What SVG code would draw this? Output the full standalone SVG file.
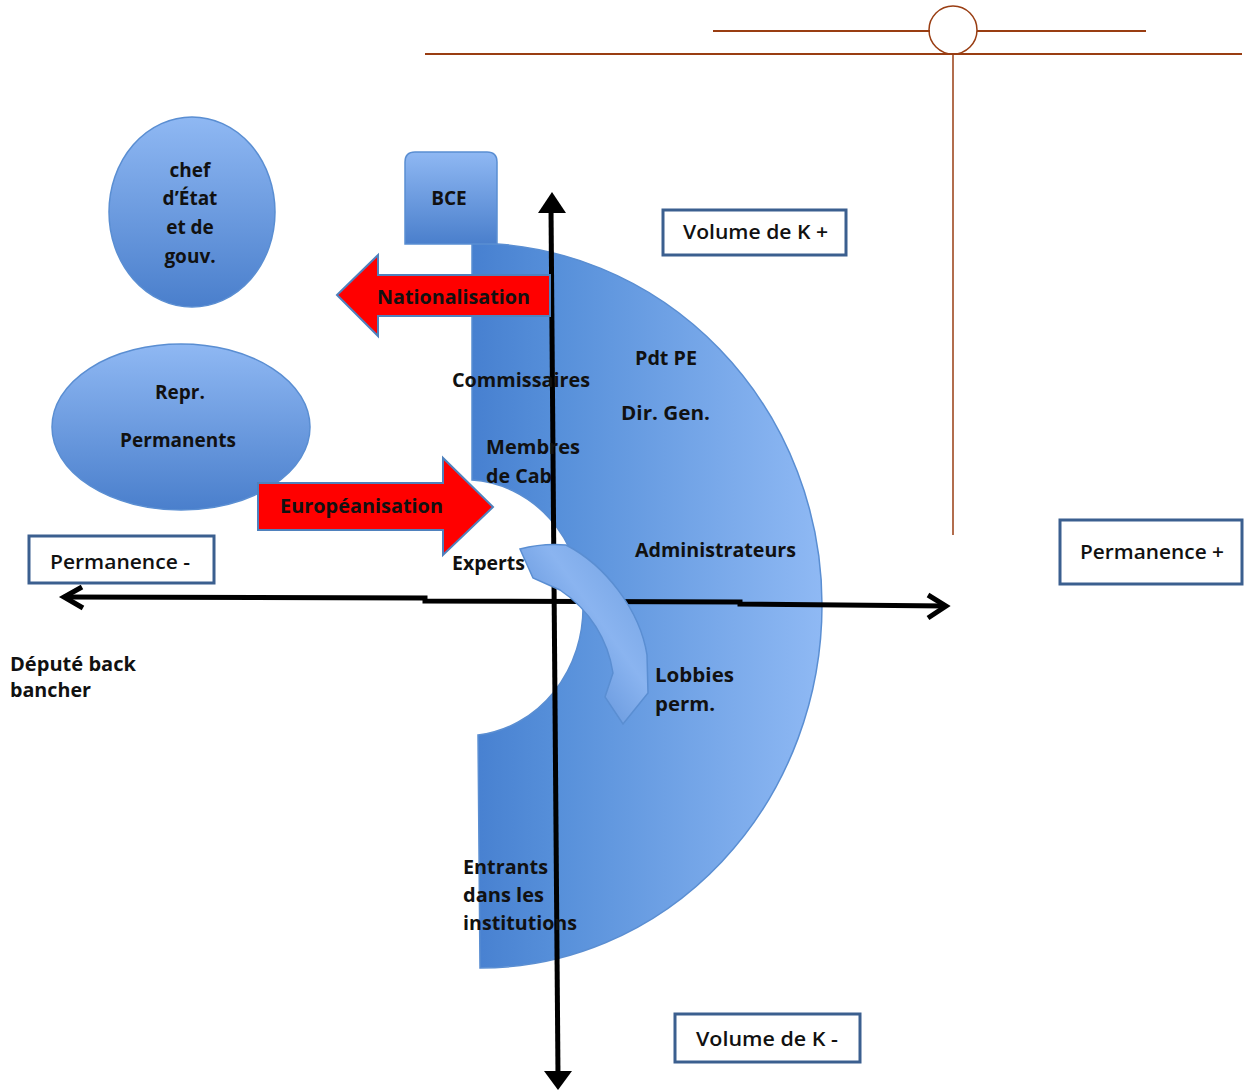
<svg xmlns="http://www.w3.org/2000/svg" width="1244" height="1091" viewBox="0 0 1244 1091">
<style>
.t{font-family:"Open Sans","Liberation Sans",sans-serif;font-weight:700;font-size:19px;fill:#111;}
.tb{font-family:"Open Sans","Liberation Sans",sans-serif;font-weight:600;font-size:20px;fill:#111;}
.box{fill:#fff;stroke:#3b5f8f;stroke-width:3;}
.brown{stroke:#993d12;fill:none;}
.ax{stroke:#000;stroke-width:5;fill:none;}
.red{fill:#ff0000;stroke:#4f81bd;stroke-width:2;}
</style>
<defs>
<linearGradient id="gH" x1="0" y1="0" x2="1" y2="0">
<stop offset="0" stop-color="#4780d0"/>
<stop offset="0.25" stop-color="#5790da"/>
<stop offset="1" stop-color="#8fb9f4"/>
</linearGradient>
<linearGradient id="gV" x1="0" y1="0" x2="0" y2="1">
<stop offset="0" stop-color="#8fb8f3"/>
<stop offset="1" stop-color="#4a7fcc"/>
</linearGradient>
<linearGradient id="gA" x1="0" y1="1" x2="1" y2="0">
<stop offset="0" stop-color="#4078c8"/>
<stop offset="0.6" stop-color="#8ab4f0"/>
<stop offset="1" stop-color="#6f9fe0"/>
</linearGradient>
</defs>

<!-- brown header decoration -->
<g id="header">
<line class="brown" x1="713" y1="31" x2="930" y2="31" stroke-width="2"/>
<line class="brown" x1="977" y1="31" x2="1146" y2="31" stroke-width="2"/>
<line class="brown" x1="425" y1="54" x2="1242" y2="54" stroke-width="2"/>
<ellipse class="brown" cx="953" cy="30" rx="24" ry="24" stroke-width="1.5"/>
<line class="brown" x1="953" y1="54" x2="953" y2="535" stroke-width="1.5"/>
</g>

<!-- big block arc -->
<g id="block-arc">
<path d="M472,243 A350,362 0 0 1 822,605 A342,363 0 0 1 480,968 L478,735 A118,128 0 0 0 472,480 Z" fill="url(#gH)" stroke="#5a8ed2" stroke-width="1.5"/>
</g>

<!-- axes -->
<g id="connectors">
<polyline class="ax" points="64,597 425,598 425,601 740,602 740,604 946,606"/>
<polyline class="ax" points="82,587 64,597 83,608" stroke-linejoin="miter"/>
<polyline class="ax" points="928,595 946,606 928,618" stroke-linejoin="miter"/>
<line class="ax" x1="551" y1="208" x2="558" y2="1076"/>
<polygon points="552,192 538,213 566,213" fill="#000"/>
<polygon points="558,1090 544,1071 572,1071" fill="#000"/>
</g>

<!-- curved arrow -->
<g id="curved-arrow">
<path d="M520,549 Q543,543 566,545 C605,565 640,610 647,655 L648,693 L623,724 L605,697 L613,673 C608,640 590,610 560,590 L533,578 Z" fill="url(#gA)" stroke="#5a8ed2" stroke-width="1.5"/>
</g>

<!-- BCE -->
<g id="bce">
<path d="M405,244 L405,162 Q405,152 415,152 L487,152 Q497,152 497,162 L497,244 Z" fill="url(#gV)" stroke="#5a8ed2" stroke-width="1.5"/>
<text class="t" x="449" y="205" text-anchor="middle">BCE</text>
</g>

<!-- ellipses -->
<g id="chef-etat">
<ellipse cx="192" cy="212" rx="83" ry="95" fill="url(#gV)" stroke="#5a8ed2" stroke-width="1.5"/>
<text class="t" x="190" y="177" text-anchor="middle">chef</text>
<text class="t" x="190" y="205" text-anchor="middle">d’État</text>
<text class="t" x="190" y="234" text-anchor="middle">et de</text>
<text class="t" x="190" y="263" text-anchor="middle">gouv.</text>
</g>
<g id="repr-permanents">
<ellipse cx="181" cy="427" rx="129" ry="83" fill="url(#gV)" stroke="#5a8ed2" stroke-width="1.5"/>
<text class="t" x="180" y="399" text-anchor="middle">Repr.</text>
<text class="t" x="178" y="447" text-anchor="middle">Permanents</text>
</g>

<!-- red arrows -->
<g id="nationalisation">
<path class="red" d="M337,295 L378,255 L378,275 L550,275 L550,316 L378,316 L378,336 Z"/>
<text class="t" x="377" y="304" textLength="153" lengthAdjust="spacingAndGlyphs">Nationalisation</text>
</g>
<g id="europeanisation">
<path class="red" d="M258,483 L443,483 L443,458 L493,507 L443,555 L443,530 L258,530 Z"/>
<text class="t" x="280" y="513" textLength="163" lengthAdjust="spacingAndGlyphs">Européanisation</text>
</g>

<!-- boxes -->
<g id="volume-plus">
<rect class="box" x="663" y="210" width="183" height="45"/>
<text class="tb" x="683" y="239" textLength="145" lengthAdjust="spacingAndGlyphs">Volume de K +</text>
</g>
<g id="permanence-plus">
<rect class="box" x="1060" y="520" width="182" height="64"/>
<text class="tb" x="1080" y="559" textLength="144" lengthAdjust="spacingAndGlyphs">Permanence +</text>
</g>
<g id="volume-minus">
<rect class="box" x="675" y="1014" width="185" height="48"/>
<text class="tb" x="696" y="1046" textLength="142" lengthAdjust="spacingAndGlyphs">Volume de K -</text>
</g>
<g id="permanence-minus">
<rect class="box" x="29" y="536" width="185" height="47"/>
<text class="tb" x="50" y="569" textLength="140" lengthAdjust="spacingAndGlyphs">Permanence -</text>
</g>

<!-- labels -->
<g id="labels">
<text class="t" x="452" y="387" textLength="138" lengthAdjust="spacingAndGlyphs">Commissaires</text>
<text class="t" x="635" y="365" textLength="62" lengthAdjust="spacingAndGlyphs">Pdt PE</text>
<text class="t" x="621" y="420" textLength="89" lengthAdjust="spacingAndGlyphs">Dir. Gen.</text>
<text class="t" x="486" y="454" textLength="94" lengthAdjust="spacingAndGlyphs">Membres</text>
<text class="t" x="486" y="483" textLength="66" lengthAdjust="spacingAndGlyphs">de Cab</text>
<text class="t" x="635" y="557" textLength="161" lengthAdjust="spacingAndGlyphs">Administrateurs</text>
<text class="t" x="452" y="570" textLength="73" lengthAdjust="spacingAndGlyphs">Experts</text>
<text class="t" x="655" y="682" textLength="79" lengthAdjust="spacingAndGlyphs">Lobbies</text>
<text class="t" x="655" y="711" textLength="60" lengthAdjust="spacingAndGlyphs">perm.</text>
<text class="t" x="10" y="671" font-weight="800" textLength="126" lengthAdjust="spacingAndGlyphs">Député back</text>
<text class="t" x="10" y="697" font-weight="800" textLength="81" lengthAdjust="spacingAndGlyphs">bancher</text>
<text class="t" x="463" y="874" textLength="85" lengthAdjust="spacingAndGlyphs">Entrants</text>
<text class="t" x="463" y="902" textLength="81" lengthAdjust="spacingAndGlyphs">dans les</text>
<text class="t" x="463" y="930" textLength="114" lengthAdjust="spacingAndGlyphs">institutions</text>
</g>
</svg>
